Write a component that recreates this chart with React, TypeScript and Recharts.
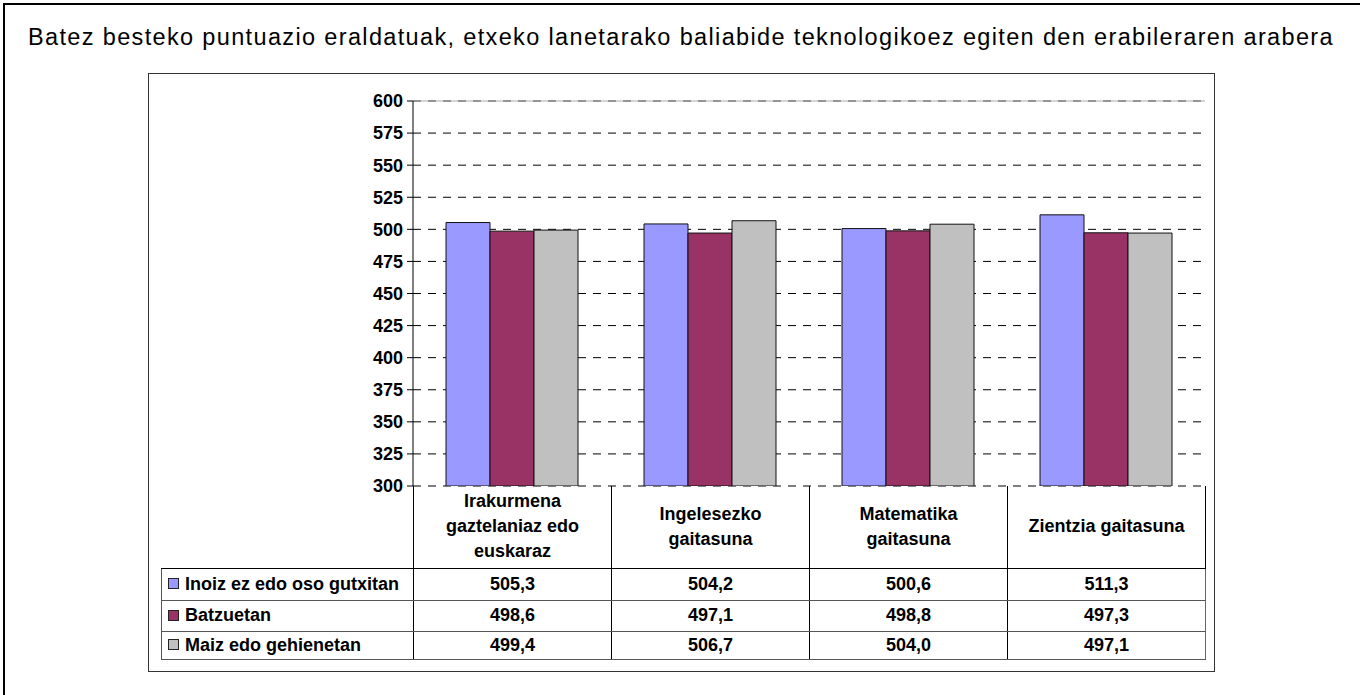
import React from 'react';
import {
    BarChart,
    Bar,
    XAxis,
    YAxis,
    CartesianGrid,
    ReferenceLine
} from 'recharts';

const title =
    'Batez besteko puntuazio eraldatuak, etxeko lanetarako baliabide teknologikoez egiten den erabileraren arabera';

const categories = [
    'Irakurmena gaztelaniaz edo euskaraz',
    'Ingelesezko gaitasuna',
    'Matematika gaitasuna',
    'Zientzia gaitasuna'
];
const seriesNames = ['Inoiz ez edo oso gutxitan', 'Batzuetan', 'Maiz edo gehienetan'];
const inoizEz = [505.3, 504.2, 500.6, 511.3];
const batzuetan = [498.6, 497.1, 498.8, 497.3];
const maiz = [499.4, 506.7, 504.0, 497.1];
const yTicks = [300, 325, 350, 375, 400, 425, 450, 475, 500, 525, 550, 575, 600];

const colors = ['#9999FF', '#993366', '#C0C0C0'];
const seriesValues = [inoizEz, batzuetan, maiz];

const data = categories.map((name, i) => ({
    name,
    s0: inoizEz[i],
    s1: batzuetan[i],
    s2: maiz[i]
}));

const FONT = '"Liberation Sans", Arial, sans-serif';

// layout (px, page coords)
const frameLeft = 148;
const frameTop = 73;
const frameW = 1067;
const frameH = 599;
const plotLeft = 413;
const plotRight = 1205;
const plotBottom = 486;
const tableLeft = 161;
const headerH = 82;
const rowHeights = [32, 31, 28];

const fmt = (v: number) => v.toFixed(1).replace('.', ',');

const DataTable = () => {
    const colW = (plotRight - plotLeft) / categories.length;
    const firstW = plotLeft - tableLeft;
    const cell: React.CSSProperties = {
        boxSizing: 'border-box',
        fontWeight: 'bold',
        fontSize: 18,
        textAlign: 'center',
        padding: 0
    };
    return (
        <table
            style={{
                position: 'absolute',
                left: tableLeft,
                top: plotBottom,
                borderCollapse: 'collapse',
                tableLayout: 'fixed',
                width: plotRight - tableLeft,
                fontFamily: FONT,
                color: '#000'
            }}
        >
            <colgroup>
                <col style={{ width: firstW }} />
                {categories.map((c) => (
                    <col key={c} style={{ width: colW }} />
                ))}
            </colgroup>
            <tbody>
                <tr style={{ height: headerH }}>
                    <td style={{ ...cell, borderBottom: '1px solid #000' }} />
                    {categories.map((c) => (
                        <td
                            key={c}
                            style={{
                                ...cell,
                                lineHeight: '25px',
                                padding: '0 8px',
                                borderLeft: '1px solid #000',
                                borderRight: '1px solid #000',
                                borderBottom: '1px solid #000'
                            }}
                        >
                            {c}
                        </td>
                    ))}
                </tr>
                {seriesNames.map((s, si) => (
                    <tr key={s} style={{ height: rowHeights[si] }}>
                        <td
                            style={{
                                ...cell,
                                textAlign: 'left',
                                paddingLeft: 6,
                                whiteSpace: 'nowrap',
                                borderLeft: '1px solid #555',
                                borderBottom: '1px solid #555'
                            }}
                        >
                            <span
                                style={{
                                    display: 'inline-block',
                                    width: 9,
                                    height: 9,
                                    background: colors[si],
                                    border: '1px solid #222',
                                    marginRight: 6,
                                    verticalAlign: 'middle',
                                    position: 'relative',
                                    top: -1
                                }}
                            />
                            {s}
                        </td>
                        {seriesValues[si].map((v, ci) => (
                            <td
                                key={ci}
                                style={{
                                    ...cell,
                                    borderLeft: '1px solid #000',
                                    borderRight: ci === categories.length - 1 ? '1px solid #666' : '1px solid #000',
                                    borderBottom: '1px solid #555'
                                }}
                            >
                                {fmt(v)}
                            </td>
                        ))}
                    </tr>
                ))}
            </tbody>
        </table>
    );
};

const App = () => {
    return (
        <div
            style={{
                position: 'fixed',
                left: 0,
                top: 0,
                width: 1360,
                height: 695,
                overflow: 'hidden',
                background: '#fff',
                fontFamily: FONT
            }}
        >
            <div
                style={{
                    position: 'absolute',
                    left: 3,
                    top: 3,
                    width: 1400,
                    height: 740,
                    border: '2px solid #000'
                }}
            />
            <div
                style={{
                    position: 'absolute',
                    left: 0,
                    top: 24,
                    width: 1362,
                    textAlign: 'center',
                    fontSize: 23.5,
                    letterSpacing: 1.35,
                    lineHeight: '27px',
                    color: '#000',
                    whiteSpace: 'nowrap'
                }}
            >
                {title}
            </div>
            <div
                style={{
                    position: 'absolute',
                    left: frameLeft,
                    top: frameTop,
                    width: frameW,
                    height: frameH,
                    boxSizing: 'border-box',
                    border: '1px solid #333'
                }}
            />
            <div style={{ position: 'absolute', left: frameLeft, top: frameTop }}>
                <BarChart
                    width={frameW}
                    height={frameH}
                    data={data}
                    margin={{ top: 28, right: frameLeft + frameW - plotRight, left: 185, bottom: frameTop + frameH - plotBottom }}
                    barCategoryGap="16.67%"
                    barGap={0}
                >
                    <ReferenceLine yAxisId="left" y={600} stroke="#aaa" />
                    <CartesianGrid
                        yAxisId="left"
                        vertical={false}
                        stroke="#000"
                        strokeDasharray="8 7"
                    />
                    <XAxis
                        dataKey="name"
                        tick={false}
                        tickLine={false}
                        height={0}
                        axisLine={{ stroke: '#000' }}
                    />
                    <YAxis
                        yAxisId="left"
                        width={80}
                        domain={[300, 600]}
                        ticks={yTicks}
                        interval={0}
                        allowDataOverflow
                        tickSize={6}
                        tickMargin={4}
                        axisLine={{ stroke: '#000' }}
                        tickLine={{ stroke: '#000' }}
                        tick={{ fill: '#000', fontSize: 18, fontWeight: 'bold', fontFamily: FONT }}
                    />
                    <YAxis
                        yAxisId="right"
                        orientation="right"
                        width={0}
                        domain={[300, 600]}
                        tick={false}
                        tickLine={false}
                        axisLine={{ stroke: '#999' }}
                    />
                    {seriesNames.map((s, i) => (
                        <Bar
                            key={s}
                            yAxisId="left"
                            dataKey={`s${i}`}
                            name={s}
                            fill={colors[i]}
                            stroke="#111"
                            strokeWidth={1}
                            isAnimationActive={false}
                        />
                    ))}
                </BarChart>
            </div>
            <DataTable />
        </div>
    );
};

export default App;
